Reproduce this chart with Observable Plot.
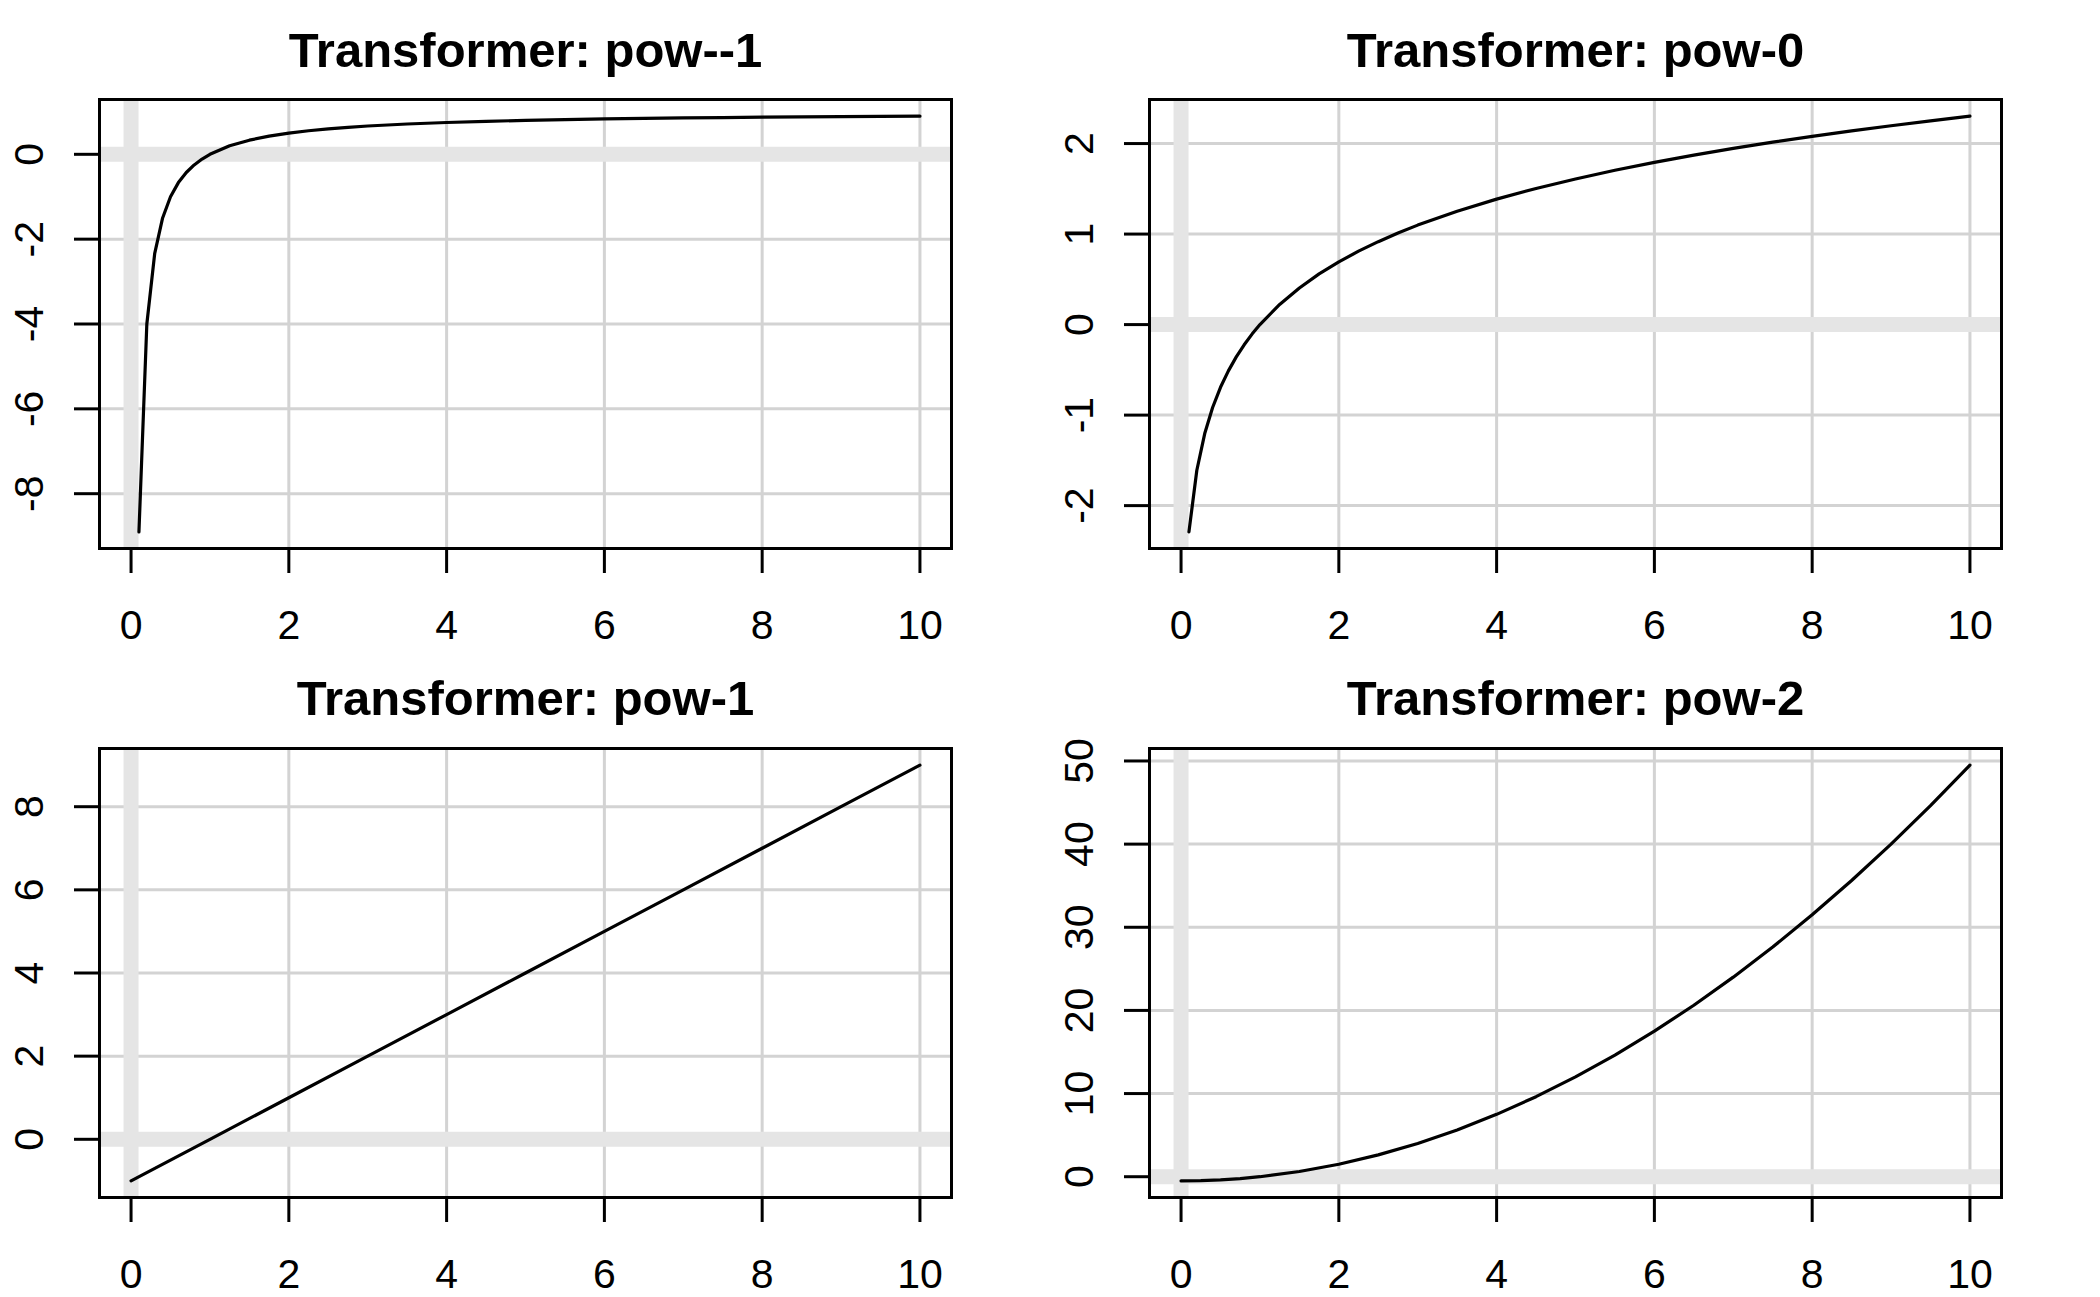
<!DOCTYPE html>
<html>
<head>
<meta charset="utf-8">
<script src="https://cdn.jsdelivr.net/npm/d3@7"></script>
<script src="https://cdn.jsdelivr.net/npm/@observablehq/plot@0.6"></script>
<style>
  html, body { margin: 0; padding: 0; background: #fff; }
  #page { position: relative; width: 2100px; height: 1297px; background: #fff; overflow: hidden; }
  .panel { position: absolute; }
</style>
</head>
<body>
<div id="page"></div>
<script>
// ---- Data ----
const titles = ["Transformer: pow--1", "Transformer: pow-0", "Transformer: pow-1", "Transformer: pow-2"];

const xPowNeg1 = [0.1,0.2,0.3,0.4,0.5,0.6,0.7,0.8,0.9,1.0,1.25,1.5,1.75,2,2.25,2.5,2.75,3,3.5,4,4.5,5,5.5,6,6.5,7,7.5,8,8.5,9,9.5,10];
const yPowNeg1 = [-8.9,-4,-2.333,-1.5,-1,-0.667,-0.429,-0.25,-0.111,0,0.2,0.333,0.429,0.5,0.556,0.6,0.636,0.667,0.714,0.75,0.778,0.8,0.818,0.833,0.846,0.857,0.867,0.875,0.882,0.889,0.895,0.9];

const xPow0 = [0.1,0.2,0.3,0.4,0.5,0.6,0.7,0.8,0.9,1.0,1.25,1.5,1.75,2,2.25,2.5,2.75,3,3.5,4,4.5,5,5.5,6,6.5,7,7.5,8,8.5,9,9.5,10];
const yPow0 = [-2.29,-1.609,-1.204,-0.916,-0.693,-0.511,-0.357,-0.223,-0.105,0,0.223,0.405,0.56,0.693,0.811,0.916,1.012,1.099,1.253,1.386,1.504,1.609,1.705,1.792,1.872,1.946,2.015,2.079,2.14,2.197,2.251,2.303];

const xPow1 = [0,1,2,3,4,5,6,7,8,9,10];
const yPow1 = [-1,0,1,2,3,4,5,6,7,8,9];

const xPow2 = [0,0.25,0.5,0.75,1,1.5,2,2.5,3,3.5,4,4.5,5,5.5,6,6.5,7,7.5,8,8.5,9,9.5,10];
const yPow2 = [-0.5,-0.469,-0.375,-0.219,0,0.625,1.5,2.625,4,5.625,7.5,9.625,12,14.625,17.5,20.625,24,27.625,31.5,35.625,40,44.625,49.5];

const xTicks = [0,2,4,6,8,10];
const yTicksPowNeg1 = [-8,-6,-4,-2,0];
const yTicksPow0 = [-2,-1,0,1,2];
const yTicksPow1 = [0,2,4,6,8];
const yTicksPow2 = [0,10,20,30,40,50];

// ---- Panels ----
const panels = [
  {title: titles[0], xs: xPowNeg1, ys: yPowNeg1, yTicks: yTicksPowNeg1, left: 0,    top: 0,   h: 648, mt: 99,  mb: 100},
  {title: titles[1], xs: xPow0,    ys: yPow0,    yTicks: yTicksPow0,    left: 1050, top: 0,   h: 648, mt: 99,  mb: 100},
  {title: titles[2], xs: xPow1,    ys: yPow1,    yTicks: yTicksPow1,    left: 0,    top: 648, h: 649, mt: 100, mb: 100},
  {title: titles[3], xs: xPow2,    ys: yPow2,    yTicks: yTicksPow2,    left: 1050, top: 648, h: 649, mt: 100, mb: 100}
];

function padded(ext) {
  const r = ext[1] - ext[0];
  return [ext[0] - 0.04 * r, ext[1] + 0.04 * r];
}

const page = document.getElementById("page");
const FONT = "'Liberation Sans', Arial, Helvetica, sans-serif";

for (const p of panels) {
  const pts = p.xs.map((x, i) => ({x, y: p.ys[i]}));
  const xDom = padded([0, 10]);
  const yDom = padded(d3.extent(p.ys));
  const chart = Plot.plot({
    width: 1050,
    height: p.h,
    marginLeft: 99,
    marginRight: 99,
    marginTop: p.mt,
    marginBottom: p.mb,
    style: {fontFamily: FONT, background: "white", overflow: "visible", color: "black"},
    x: {domain: xDom, axis: null},
    y: {domain: yDom, axis: null},
    marks: [
      Plot.gridX(xTicks, {stroke: "#d3d3d3", strokeOpacity: 1, strokeWidth: 3}),
      Plot.gridY(p.yTicks, {stroke: "#d3d3d3", strokeOpacity: 1, strokeWidth: 3}),
      Plot.ruleY([0], {stroke: "#e5e5e5", strokeWidth: 15}),
      Plot.ruleX([0], {stroke: "#e5e5e5", strokeWidth: 15}),
      Plot.line(pts, {x: "x", y: "y", stroke: "black", strokeWidth: 3.2, strokeLinejoin: "round"}),
      Plot.frame({stroke: "black", strokeWidth: 3}),
      Plot.axisX(xTicks, {anchor: "bottom", tickSize: 25, strokeWidth: 3, tickFormat: () => "", label: null}),
      Plot.axisY(p.yTicks, {anchor: "left", tickSize: 25, strokeWidth: 3, tickFormat: () => "", label: null}),
      Plot.text(xTicks, {x: d => d, text: d => String(d), frameAnchor: "bottom", dy: 90, lineAnchor: "bottom", textAnchor: "middle", fontSize: 41, fill: "black"}),
      Plot.text(p.yTicks, {y: d => d, text: d => String(d), frameAnchor: "left", dx: -56.5, rotate: -90, lineAnchor: "bottom", textAnchor: "middle", fontSize: 41, fill: "black"}),
      Plot.text([p.title], {text: d => d, frameAnchor: "top", dy: -(p.mt - 66.7), lineAnchor: "bottom", textAnchor: "middle", fontSize: 49, fontWeight: "bold", fill: "black"})
    ]
  });
  const div = document.createElement("div");
  div.className = "panel";
  div.style.left = p.left + "px";
  div.style.top = p.top + "px";
  div.appendChild(chart);
  page.appendChild(div);
}
</script>
</body>
</html>
